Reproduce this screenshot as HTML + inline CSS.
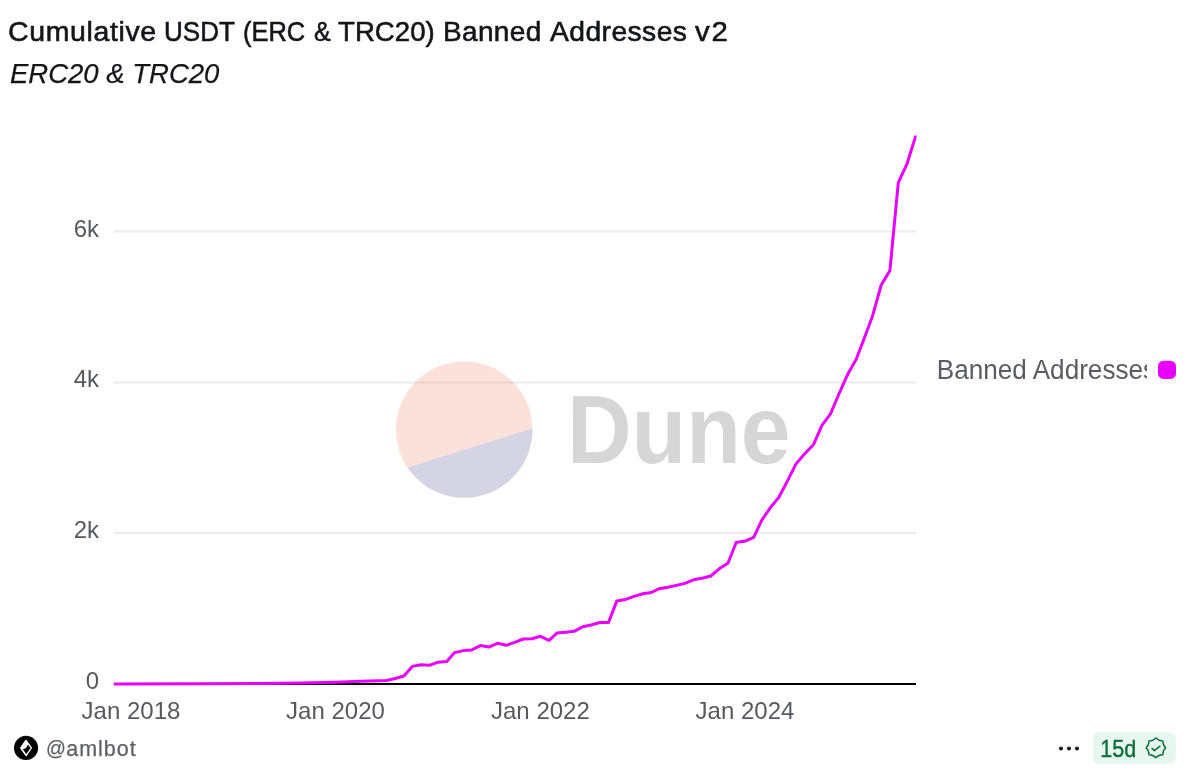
<!DOCTYPE html>
<html lang="en">
<head>
<meta charset="utf-8">
<title>Cumulative USDT (ERC &amp; TRC20) Banned Addresses v2</title>
<style>
html,body{margin:0;padding:0;background:#fff;}
body{width:1194px;height:782px;position:relative;overflow:hidden;font-family:"Liberation Sans",sans-serif;}
#title{position:absolute;left:0;top:14.7px;width:760px;height:34px;font-size:27.5px;line-height:34px;color:#14151a;white-space:nowrap;-webkit-text-stroke:0.58px #14151a;}
#title span{position:absolute;top:0;transform-origin:0 0;white-space:nowrap;}
#subtitle{position:absolute;left:10px;top:56.7px;font-size:27.5px;line-height:34px;color:#14151a;font-style:italic;white-space:nowrap;-webkit-text-stroke:0.25px #14151a;}
svg{position:absolute;left:0;top:0;}
svg text{font-family:"Liberation Sans",sans-serif;}
#owner{position:absolute;left:0;top:734.7px;height:28px;width:200px;line-height:28px;color:#5f6067;white-space:nowrap;-webkit-text-stroke:0.25px #5f6067;}
#owner span{position:absolute;top:0;}
#owner .at{left:45.8px;top:-1px;font-size:20px;transform:scaleX(0.98);transform-origin:0 0;}
#owner .nm{left:66.2px;font-size:21.5px;letter-spacing:1.0px;}
</style>
</head>
<body>
<div id="title"><span style="left:8.1px;transform:scaleX(1.035);letter-spacing:0.62px">Cumulative</span> <span style="left:163.8px;transform:scaleX(0.946);letter-spacing:0.00px">USDT</span> <span style="left:243.0px;transform:scaleX(0.926);letter-spacing:0.00px">(ERC</span> <span style="left:314.2px;transform:scaleX(0.906);letter-spacing:0.00px">&amp;</span> <span style="left:338.1px;transform:scaleX(1.003);letter-spacing:0.05px">TRC20)</span> <span style="left:442.9px;transform:scaleX(1.018);letter-spacing:0.33px">Banned</span> <span style="left:550.0px;transform:scaleX(1.027);letter-spacing:0.42px">Addresses</span> <span style="left:695.2px;transform:scaleX(1.068);letter-spacing:1.76px">v2</span></div>
<div id="subtitle">ERC20 &amp; TRC20</div>
<svg width="1194" height="782" viewBox="0 0 1194 782">
  <!-- gridlines -->
  <g stroke="#ebebee" stroke-width="2">
    <line x1="114" y1="231.5" x2="916" y2="231.5"/>
    <line x1="114" y1="382.4" x2="916" y2="382.4"/>
    <line x1="114" y1="533.1" x2="916" y2="533.1"/>
  </g>
  <!-- watermark -->
  <g id="wm" opacity="0.18">
    <circle cx="464.2" cy="429.7" r="68.3" fill="#f4603e"/>
    <path d="M407.7,467.6 A68.3,68.3 0 0 0 532.5,428.3 Z" fill="#1e1870"/>
  </g>
  <text x="567" y="462.5" font-size="97" font-weight="bold" fill="#d6d6d6" textLength="223.5" lengthAdjust="spacingAndGlyphs">Dune</text>
  <!-- axis line -->
  <line x1="114" y1="684" x2="916" y2="684" stroke="#000" stroke-width="2"/>
  <clipPath id="pc"><rect x="112.4" y="135.6" width="804.2" height="560"/></clipPath>
  <!-- data line -->
  <polyline id="dl" fill="none" stroke="#e800ff" stroke-width="3" stroke-linejoin="round" points="113.8,684.0 200,683.8 260,683.4 300,683.1 335.5,682.3 361.0,681.2 378.1,680.7 386.5,680.5 395.2,678.5 403.9,676.0 412.3,666.4 421.0,664.7 429.4,665.3 438.1,662.2 446.8,661.5 454.6,652.6 463.3,650.6 471.7,649.9 480.4,645.6 488.8,647.1 497.5,643.3 506.2,645.3 514.6,642.4 523.3,639.0 531.7,638.7 540.4,636.3 549.1,640.3 556.9,633.1 565.6,632.2 574.0,631.3 582.7,626.8 591.1,625.0 599.8,622.5 608.5,622.4 616.9,600.9 625.6,599.4 634.0,596.4 642.7,593.7 651.4,592.5 659.2,588.7 667.9,587.2 676.3,585.4 685.0,583.4 693.4,579.8 702.1,578.3 710.8,576.0 719.2,568.8 727.9,563.2 736.3,542.2 745.0,541.2 753.7,537.3 761.8,520.2 770.5,507.4 778.9,497.2 787.6,480.6 796.0,463.9 804.7,453.7 813.4,444.8 821.8,425.6 830.5,413.8 838.9,394.0 847.6,374.6 856.2,359.2 864.1,338.8 872.8,315.2 881.2,285.0 889.9,270.6 898.3,182.6 907.0,163.8 915.7,136.0 917.0,131.8" clip-path="url(#pc)"/>
  <!-- y labels -->
  <g font-size="24" fill="#585960" text-anchor="end">
    <text x="99" y="236.8">6k</text>
    <text x="99" y="387.3">4k</text>
    <text x="99" y="538.1">2k</text>
    <text x="99" y="689.1">0</text>
  </g>
  <!-- x labels -->
  <g font-size="24" fill="#585960" text-anchor="middle">
    <text x="131" y="719">Jan 2018</text>
    <text x="335.5" y="719">Jan 2020</text>
    <text x="540.4" y="719">Jan 2022</text>
    <text x="745" y="719">Jan 2024</text>
  </g>
  <!-- legend -->
  <clipPath id="lc"><rect x="930" y="350" width="217" height="40"/></clipPath>
  <g clip-path="url(#lc)"><text x="0" y="0" font-size="26" fill="#5b5c63" transform="translate(936.8,379) scale(1.005,1.035)">Banned Addresses</text></g>
  <rect x="1158" y="360.7" width="18" height="18.3" rx="5.6" fill="#e800ff"/>
  <!-- owner icon -->
  <circle cx="26.05" cy="747.9" r="12.05" fill="#000"/>
  <path d="M25.95,740.4 L31.3,747.95 L26.15,755.5 L20.7,747.95 Z" fill="#fff" stroke="#fff" stroke-width="1.4" stroke-linejoin="round"/>
  <path d="M27.8,744.6 L30.65,748.05 L26.3,754.0 L22.8,749.3 Q26.9,748.8 27.8,744.6 Z" fill="#000"/>
  <rect x="1093" y="731.9" width="82.9" height="31.9" rx="6.8" fill="#e6f7ee"/>
  <text transform="translate(1100.3,756.6) scale(0.93,1)" font-size="23.2" fill="#0f6e3c" stroke="#0f6e3c" stroke-width="0.4">15d</text>
  <!-- seal -->
  <path d="M1155.90,738.06 Q1158.71,741.07 1162.83,740.93 Q1162.69,745.05 1165.70,747.86 Q1162.69,750.67 1162.83,754.79 Q1158.71,754.65 1155.90,757.66 Q1153.09,754.65 1148.97,754.79 Q1149.11,750.67 1146.10,747.86 Q1149.11,745.05 1148.97,740.93 Q1153.09,741.07 1155.90,738.06 Z" fill="none" stroke="#0f6e3c" stroke-width="1.4" stroke-linejoin="round"/>
  <path d="M1152.0,748.4 L1154.4,750.6 L1160.0,746.2" fill="none" stroke="#0f6e3c" stroke-width="1.5" stroke-linecap="round" stroke-linejoin="round"/>
  <!-- dots -->
  <g fill="#1b1c22"><circle cx="1061" cy="748.5" r="2.05"/><circle cx="1069" cy="748.5" r="2.05"/><circle cx="1077" cy="748.5" r="2.05"/></g>
</svg>
<div id="owner"><span class="at">@</span><span class="nm">amlbot</span></div>
</body>
</html>
